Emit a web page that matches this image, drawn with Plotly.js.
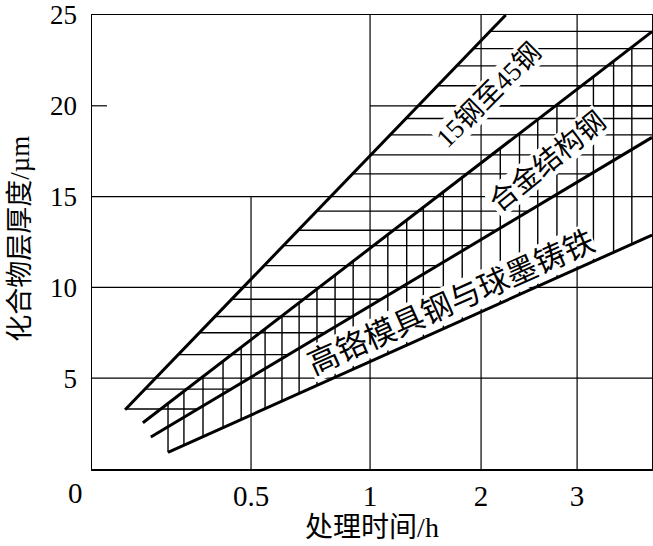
<!DOCTYPE html>
<html>
<head>
<meta charset="utf-8">
<script src="https://cdn.plot.ly/plotly-3.0.1.min.js"></script>
<style>html,body{margin:0;padding:0;background:#fff;}#chart{width:653px;height:546px;}</style>
</head>
<body>
<div id="chart"></div>
<script>
// ---- Data ----
// Non-uniform time axis: hour values and their labels
const tickHours = [0, 0.5, 1, 2, 3];
const tickLabels = ['0', '0.5', '1', '2', '3'];
const yTicks = [5, 10, 15, 20, 25];
const xMaxHours = 3.78;

// Boundary lines (time in h, thickness in µm)
const lineA_t = [0.104, 2.257], lineA_y = [3.26, 25.0];
const lineB_t = [0.16, 3.78],   lineB_y = [2.55, 24.08];
const lineC_t = [0.185, 3.78],  lineC_y = [1.76, 18.26];
const lineD_t = [0.239, 3.78],  lineD_y = [0.92, 12.88];

// Hatch: horizontal levels (µm) between lines A and C
const hatchLevels = [3.3, 4.4, 6.3, 7.5, 8.4, 9.35, 11.2, 12.3, 13.15, 14.2, 16.25, 17.3, 18.4, 19.3, 20, 21.1, 22.2, 23.15, 24.1];
// Hatch: vertical times (h) between lines D and B
const hatchTimes = [0.239, 0.289, 0.349, 0.412, 0.469, 0.559, 0.630, 0.702, 0.777, 0.853, 0.929, 1.16, 1.33, 1.48, 1.66, 1.83, 2.20, 2.40, 2.59, 2.79, 3.17, 3.38, 3.57];

// Band labels
const labelText = ['15钢至45钢', '合金结构钢', '高铬模具钢与球墨铸铁'];
const labelT = [2.08, 2.69, 1.73];
const labelY = [20.6, 16.96, 9.18];
const labelAngle = [-45, -39, -24];
const labelSize = [27, 28, 31];

// ---- Scale: layout positions of the hour ticks on the drawn axis ----
const tickPos = [0, 1.59, 2.78, 3.89, 4.85];
function tpos(t) {
  const n = tickHours.length;
  for (let i = 0; i < n - 1; i++) {
    if (t <= tickHours[i + 1] || i === n - 2) {
      const f = (t - tickHours[i]) / (tickHours[i + 1] - tickHours[i]);
      return tickPos[i] + f * (tickPos[i + 1] - tickPos[i]);
    }
  }
}
const xMaxPos = tpos(xMaxHours);
const yMax = 25;

function mkLine(t, y) { return {p: t.map(tpos), y: y}; }
const A = mkLine(lineA_t, lineA_y), B = mkLine(lineB_t, lineB_y),
      C = mkLine(lineC_t, lineC_y), D = mkLine(lineD_t, lineD_y);
function posAtY(L, y) { return L.p[0] + (y - L.y[0]) * (L.p[1] - L.p[0]) / (L.y[1] - L.y[0]); }
function yAtPos(L, p) { return L.y[0] + (p - L.p[0]) * (L.y[1] - L.y[0]) / (L.p[1] - L.p[0]); }

const hx = [], hy = [];
hatchLevels.forEach(h => {
  const p0 = posAtY(A, h), p1 = Math.min(posAtY(C, h), xMaxPos);
  hx.push(p0, p1, null); hy.push(h, h, null);
});
const vx = [], vy = [];
hatchTimes.forEach(t => {
  const p = tpos(t);
  const y0 = yAtPos(D, p), y1 = Math.min(yAtPos(B, p), yMax);
  vx.push(p, p, null); vy.push(y0, y1, null);
});

const traces = [
  {x: hx, y: hy, mode: 'lines', line: {color: '#000', width: 1.4}, hoverinfo: 'skip'},
  {x: vx, y: vy, mode: 'lines', line: {color: '#000', width: 1.4}, hoverinfo: 'skip'}
];
[A, B, C, D].forEach(L => traces.push({x: L.p, y: L.y, mode: 'lines', line: {color: '#000', width: 3}, hoverinfo: 'skip'}));

// ---- Grid (partial, as in the reference) ----
const shapes = [];
const gridLine = {color: '#000', width: 1.2};
tickHours.slice(1).forEach(t => {
  const top = t < 1 ? 15 : yMax;
  shapes.push({type: 'line', xref: 'x', yref: 'y', x0: tpos(t), x1: tpos(t), y0: 0, y1: top, line: gridLine, layer: 'below'});
});
yTicks.slice(0, -1).forEach(v => {
  const left = v >= 20 ? tpos(1) : 0;
  shapes.push({type: 'line', xref: 'x', yref: 'y', x0: left, x1: xMaxPos, y0: v, y1: v, line: gridLine, layer: 'below'});
  if (v >= 20) shapes.push({type: 'line', xref: 'x', yref: 'y', x0: 0, x1: 0.15, y0: v, y1: v, line: gridLine, layer: 'below'});
});

const serif = "'Liberation Serif', 'Noto Sans CJK SC', serif";
const annotations = labelText.map((s, i) => ({
  x: tpos(labelT[i]), y: labelY[i], xref: 'x', yref: 'y', text: s, showarrow: false,
  textangle: labelAngle[i], bgcolor: '#fff', borderpad: 0,
  font: {family: serif, size: labelSize[i], color: '#000'}
}));
annotations.push({x: -0.0286, y: -0.052, xref: 'paper', yref: 'paper', text: tickLabels[0], showarrow: false,
  xanchor: 'center', yanchor: 'middle', font: {family: serif, size: 29, color: '#000'}});
annotations.push({x: -0.1286, y: 0.507, xref: 'paper', yref: 'paper', text: '化合物层厚度/µm', showarrow: false,
  textangle: -90, xanchor: 'center', yanchor: 'middle', font: {family: serif, size: 27, color: '#000'}});

const layout = {
  width: 653, height: 546,
  margin: {l: 92, r: 1, t: 15, b: 77},
  paper_bgcolor: '#fff', plot_bgcolor: '#fff',
  showlegend: false,
  font: {family: serif, color: '#000'},
  xaxis: {
    range: [0, xMaxPos], tickmode: 'array',
    tickvals: tickHours.slice(1).map(tpos), ticktext: tickLabels.slice(1),
    showgrid: false, zeroline: false, showline: true, mirror: true, linecolor: '#000', linewidth: 1.5,
    ticks: '', ticklabelstandoff: 1, ticklabeloverflow: 'allow', tickfont: {family: serif, size: 29, color: '#000'},
    title: {text: '处理时间/h', font: {family: serif, size: 28, color: '#000'}, standoff: 4}
  },
  yaxis: {
    range: [0, yMax], tickmode: 'array', tickvals: yTicks, ticktext: yTicks.map(String),
    showgrid: false, zeroline: false, showline: true, mirror: true, linecolor: '#000', linewidth: 1.5,
    ticks: '', ticklabelstandoff: 8, ticklabeloverflow: 'allow',
    tickfont: {family: serif, size: 27, color: '#000'}
  },
  shapes: shapes,
  annotations: annotations
};
Plotly.newPlot('chart', traces, layout, {staticPlot: true, displayModeBar: false});
</script>
</body>
</html>
